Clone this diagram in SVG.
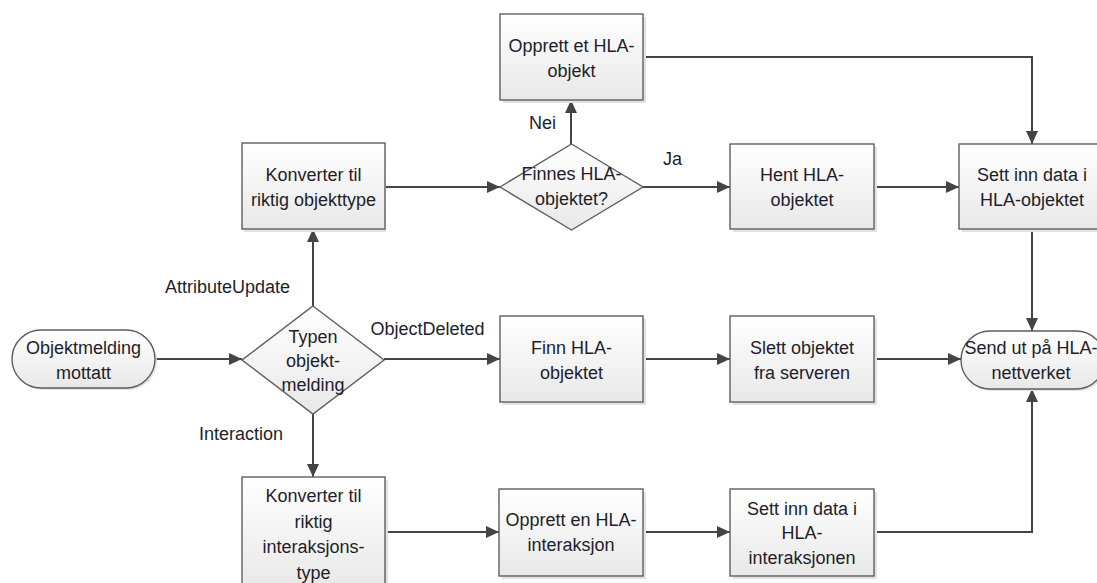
<svg xmlns="http://www.w3.org/2000/svg" width="1097" height="583" viewBox="0 0 1097 583">
<style>
  .box { fill: url(#g); stroke: #5e5e5e; stroke-width: 1.4; }
  .sh { fill: #e2e2e2; }
  .t { font-family: "Liberation Sans", Arial, sans-serif; font-size: 18px; fill: #1e1e2a; text-anchor: middle; }
  .lbl { font-family: "Liberation Sans", Arial, sans-serif; font-size: 18px; fill: #1e1e2a; text-anchor: middle; }
  .c { fill: none; stroke: #444; stroke-width: 2; }
  .ca { fill: none; stroke: #444; stroke-width: 2; marker-end: url(#arr); }
</style>
<defs>
  <linearGradient id="g" x1="0" y1="0" x2="0" y2="1">
    <stop offset="0" stop-color="#ffffff"/>
    <stop offset="1" stop-color="#e8e8e8"/>
  </linearGradient>
  <marker id="arr" markerUnits="userSpaceOnUse" markerWidth="14" markerHeight="12" refX="13" refY="6" orient="auto">
    <path d="M0,0 L13,6 L0,12 z" fill="#444"/>
  </marker>
</defs>
<rect width="1097" height="583" fill="#ffffff"/>

<g id="connectors">
  <path class="ca" d="M155,359 H242"/>
  <path class="ca" d="M313,306 V229"/>
  <path class="ca" d="M385,187 H500"/>
  <path class="ca" d="M571,144 V100"/>
  <path class="ca" d="M643,187 H730"/>
  <path class="ca" d="M874,187 H959"/>
  <path class="ca" d="M643,57 H1032 V144"/>
  <path class="ca" d="M1032,229 V331"/>
  <path class="ca" d="M384,359 H500"/>
  <path class="ca" d="M643,359 H730"/>
  <path class="ca" d="M874,359 H961"/>
  <path class="ca" d="M313,414 V477"/>
  <path class="ca" d="M385,532 H499"/>
  <path class="ca" d="M643,532 H730"/>
  <path class="ca" d="M874,532 H1032 V389"/>
  <text class="lbl" x="227.5" y="292.5">AttributeUpdate</text>
  <text class="lbl" x="241" y="439.5">Interaction</text>
  <text class="lbl" x="427.5" y="334.5">ObjectDeleted</text>
  <text class="lbl" x="542.5" y="128.5">Nei</text>
  <text class="lbl" x="672.5" y="164.5">Ja</text>
</g>

<g id="start">
  <rect class="sh" x="14" y="332" width="143" height="58" rx="29"/>
  <rect class="box" x="12" y="330" width="143" height="58" rx="29"/>
  <text class="t" x="83.5" y="353.5">Objektmelding</text>
  <text class="t" x="83.5" y="378.5">mottatt</text>
</g>

<g id="typen">
  <path class="box" d="M313,306 L384,360 L313,414 L242,360 Z"/>
  <text class="t" x="313" y="342.5">Typen</text>
  <text class="t" x="313" y="366.5">objekt-</text>
  <text class="t" x="313" y="390.5">melding</text>
</g>

<g id="konverter-obj">
  <rect class="sh" x="244" y="146" width="142" height="86"/>
  <rect class="box" x="242" y="143" width="143" height="86"/>
  <text class="t" x="313.5" y="181">Konverter til</text>
  <text class="t" x="313.5" y="206">riktig objekttype</text>
</g>

<g id="finnes">
  <path class="box" d="M571.5,144 L643,187 L571.5,230 L500,187 Z"/>
  <text class="t" x="571.5" y="179.5">Finnes HLA-</text>
  <text class="t" x="571.5" y="204.5">objektet?</text>
</g>

<g id="opprett-obj">
  <rect class="sh" x="503" y="17" width="143" height="86"/>
  <rect class="box" x="500" y="14" width="143" height="86"/>
  <text class="t" x="571.5" y="51.5">Opprett et HLA-</text>
  <text class="t" x="571.5" y="76.5">objekt</text>
</g>

<g id="hent">
  <rect class="sh" x="733" y="147" width="144" height="85"/>
  <rect class="box" x="730" y="144" width="144" height="85"/>
  <text class="t" x="802" y="181">Hent HLA-</text>
  <text class="t" x="802" y="206">objektet</text>
</g>

<g id="sett-obj">
  <rect class="sh" x="962" y="147" width="146" height="85"/>
  <rect class="box" x="959" y="144" width="146" height="85"/>
  <text class="t" x="1032" y="181">Sett inn data i</text>
  <text class="t" x="1032" y="206">HLA-objektet</text>
</g>

<g id="finn">
  <rect class="sh" x="503" y="319" width="143" height="86"/>
  <rect class="box" x="500" y="316" width="143" height="86"/>
  <text class="t" x="571.5" y="353.5">Finn HLA-</text>
  <text class="t" x="571.5" y="378.5">objektet</text>
</g>

<g id="slett">
  <rect class="sh" x="733" y="319" width="144" height="86"/>
  <rect class="box" x="730" y="316" width="144" height="86"/>
  <text class="t" x="802" y="353.5">Slett objektet</text>
  <text class="t" x="802" y="378.5">fra serveren</text>
</g>

<g id="send">
  <rect class="sh" x="963" y="333" width="144" height="58" rx="29"/>
  <rect class="box" x="961" y="331" width="144" height="58" rx="29"/>
  <text class="t" x="1031" y="353.5">Send ut på HLA-</text>
  <text class="t" x="1031" y="378.5">nettverket</text>
</g>

<g id="konverter-int">
  <rect class="sh" x="245" y="480" width="143" height="110"/>
  <rect class="box" x="242" y="477" width="143" height="112"/>
  <text class="t" x="313.5" y="502">Konverter til</text>
  <text class="t" x="313.5" y="527.5">riktig</text>
  <text class="t" x="313.5" y="553">interaksjons-</text>
  <text class="t" x="313.5" y="578.5">type</text>
</g>

<g id="opprett-int">
  <rect class="sh" x="502" y="492" width="144" height="87"/>
  <rect class="box" x="499" y="489" width="144" height="87"/>
  <text class="t" x="571" y="526">Opprett en HLA-</text>
  <text class="t" x="571" y="551">interaksjon</text>
</g>

<g id="sett-int">
  <rect class="sh" x="733" y="492" width="144" height="87"/>
  <rect class="box" x="730" y="489" width="144" height="87"/>
  <text class="t" x="802" y="514.5">Sett inn data i</text>
  <text class="t" x="802" y="539">HLA-</text>
  <text class="t" x="802" y="563.5">interaksjonen</text>
</g>
</svg>
